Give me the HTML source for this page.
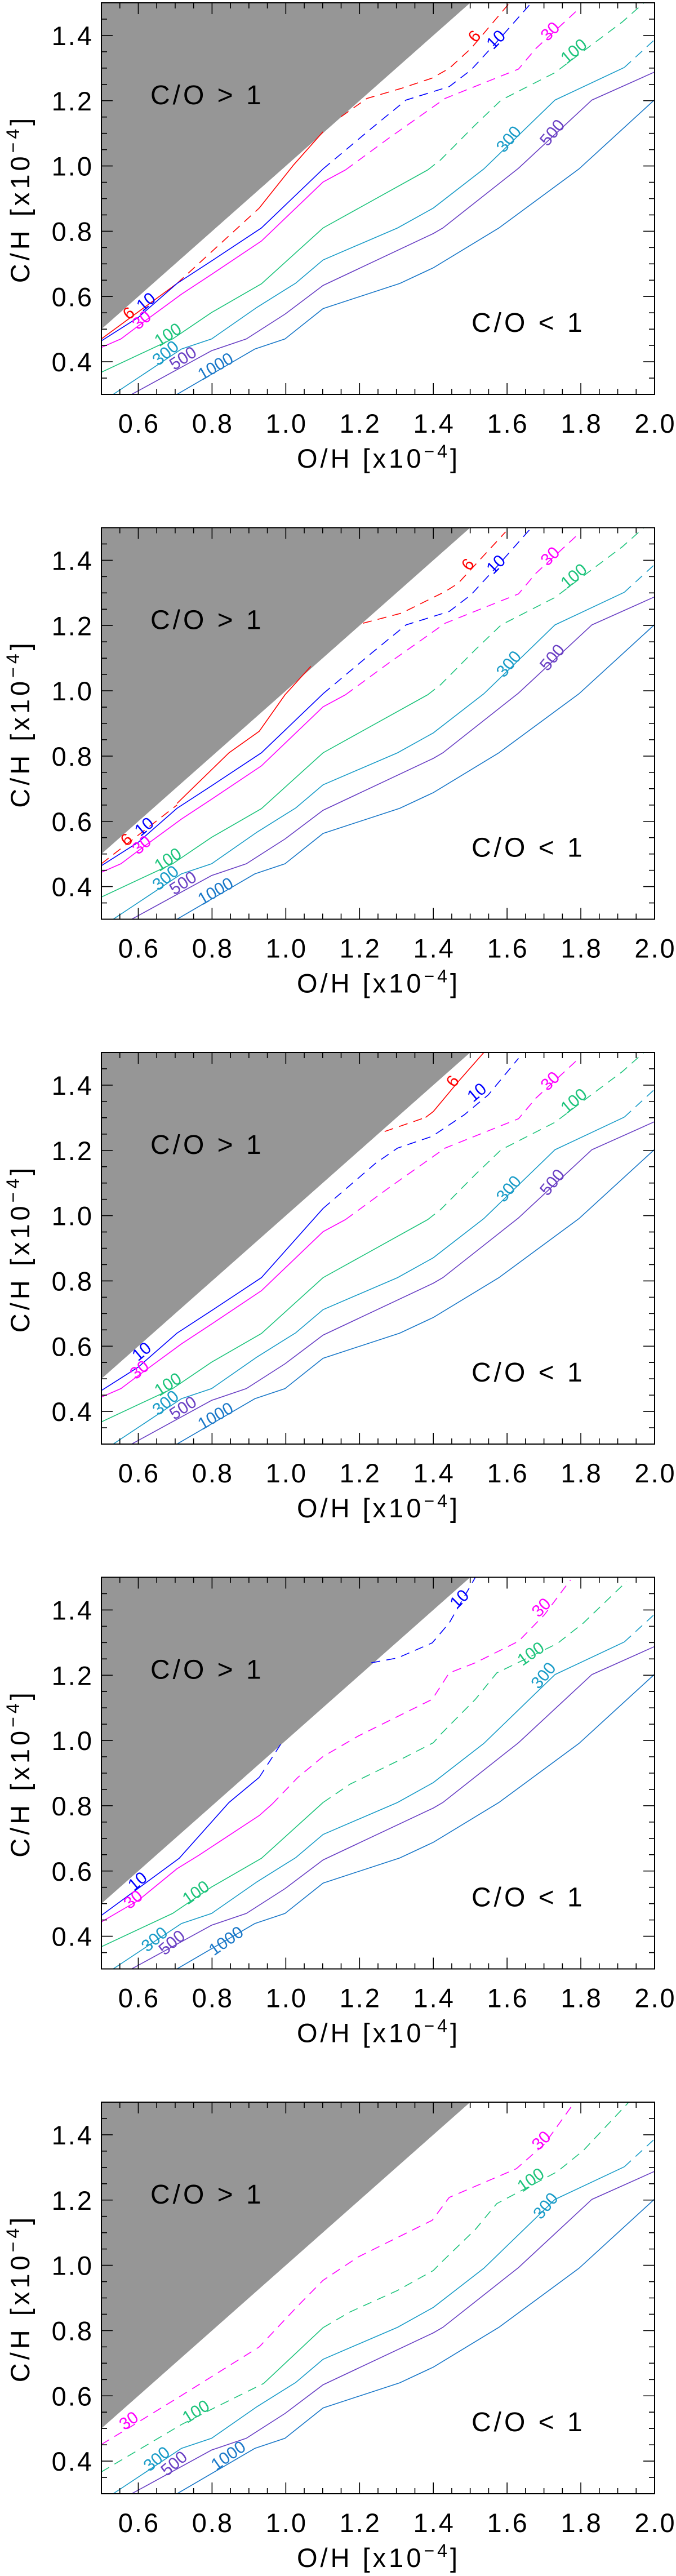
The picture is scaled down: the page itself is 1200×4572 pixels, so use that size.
<!DOCTYPE html>
<html><head><meta charset="utf-8">
<style>
html,body{margin:0;padding:0;background:#fff;}
svg{display:block;}
text{font-family:"Liberation Sans",sans-serif;}
</style></head>
<body>
<svg id="fig" width="1200" height="4572" viewBox="0 0 1200 4572" xmlns="http://www.w3.org/2000/svg"></svg>
<script>
// ---- axis data ----
const xTicks = [0.6, 0.8, 1.0, 1.2, 1.4, 1.6, 1.8, 2.0];
const xTickLabels = ["0.6","0.8","1.0","1.2","1.4","1.6","1.8","2.0"];
const yTicks = [0.4, 0.6, 0.8, 1.0, 1.2, 1.4];
const yTickLabels = ["0.4","0.6","0.8","1.0","1.2","1.4"];
const xRange = [0.5, 2.0];
const yRange = [0.3, 1.5];
const levels = ["6","10","30","100","300","500","1000"];
const levelColors = ["#ff0000","#0000ff","#ff00ff","#1ec47c","#1a9cc8","#6a40c4","#1a78c8"];

// ---- shared contour data (O/H, C/H) ----
const c1000 = [[0.705,0.3],[0.916,0.439],[0.998,0.470],[1.101,0.563],[1.309,0.640],[1.400,0.688],[1.578,0.810],[1.795,0.991],[2.0,1.203]];
const c500 = [[0.582,0.3],[0.799,0.434],[0.893,0.470],[0.998,0.546],[1.101,0.634],[1.400,0.793],[1.426,0.810],[1.631,0.993],[1.830,1.202],[2.0,1.288]];
const c300 = [[0.532,0.3],[0.717,0.439],[0.799,0.470],[0.922,0.567],[1.027,0.641],[1.101,0.712],[1.303,0.810],[1.400,0.871],[1.537,0.991],[1.730,1.202],[1.918,1.302]];
const c300d = [[1.918,1.302],[2.0,1.387]];
const c100s = [[0.5,0.368],[0.693,0.470],[0.799,0.551],[0.934,0.639],[1.101,0.810],[1.385,0.988]];
const c100d = [[1.385,0.988],[1.420,1.019],[1.514,1.126],[1.584,1.202],[1.730,1.286],[1.807,1.352],[1.912,1.441],[1.971,1.5]];
const c30s = [[0.5,0.444],[0.553,0.470],[0.600,0.510],[0.717,0.607],[0.799,0.668],[0.934,0.770],[1.101,0.951],[1.162,0.988]];
const c30d = [[1.162,0.988],[1.279,1.085],[1.432,1.207],[1.631,1.297],[1.678,1.360],[1.795,1.482]];
const c10s = [[0.5,0.464],[0.600,0.536],[0.705,0.640],[0.799,0.709],[0.934,0.810],[1.101,0.991]];
const c10d = [[1.101,0.991],[1.232,1.115],[1.326,1.202],[1.443,1.243],[1.502,1.294],[1.572,1.380],[1.666,1.5]];
// panel 1 red
const p1c6s1 = [[0.5,0.470],[0.705,0.640]];
const p1c6d1 = [[0.705,0.640],[0.928,0.871]];
const p1c6s2 = [[0.928,0.871],[1.021,1.003],[1.101,1.105]];
const p1c6d2 = [[1.150,1.151],[1.220,1.207],[1.314,1.238],[1.396,1.269],[1.443,1.299],[1.502,1.360],[1.607,1.5]];
// panel 2 red
const p2c6d1 = [[0.5,0.470],[0.705,0.650]];
const p2c6s = [[0.705,0.655],[0.846,0.810],[0.928,0.876],[0.998,0.988],[1.068,1.075]];
const p2c6d2 = [[1.209,1.207],[1.314,1.238],[1.432,1.304],[1.467,1.329],[1.596,1.487]];
// panel 3
const p3c6d = [[1.268,1.258],[1.379,1.301]];
const p3c6s = [[1.379,1.301],[1.400,1.319],[1.467,1.410],[1.537,1.5]];
const p3c10s = [[0.5,0.464],[0.600,0.536],[0.705,0.640],[0.799,0.709],[0.934,0.810],[1.101,1.022]];
const p3c10d = [[1.101,1.022],[1.244,1.161],[1.303,1.207],[1.397,1.243],[1.484,1.309],[1.549,1.370],[1.631,1.482]];
// panel 4
const p4c10s = [[0.5,0.464],[0.711,0.639],[0.846,0.810],[0.928,0.887]];
const p4c10d1 = [[0.928,0.887],[0.986,0.988]];
const p4c10d2 = [[1.232,1.238],[1.303,1.253],[1.397,1.299],[1.443,1.360],[1.514,1.5]];
const p4c30s = [[0.5,0.444],[0.600,0.510],[0.705,0.607],[0.764,0.648],[0.928,0.770],[0.963,0.805]];
const p4c30d = [[0.963,0.805],[1.033,0.887],[1.101,0.951],[1.197,1.014],[1.397,1.126],[1.443,1.207],[1.514,1.238],[1.631,1.304],[1.701,1.385],[1.772,1.492]];
const p4c100s = [[0.5,0.368],[0.693,0.470],[0.799,0.551],[0.934,0.639],[1.101,0.810]];
const p4c100d = [[1.101,0.810],[1.174,0.866],[1.303,0.937],[1.400,0.993],[1.420,1.019],[1.514,1.126],[1.572,1.207],[1.736,1.297],[1.807,1.360],[1.924,1.487]];
// panel 5
const p5c30d = [[0.5,0.451],[0.576,0.503],[0.717,0.601],[0.928,0.750],[1.033,0.876],[1.101,0.954],[1.197,1.026],[1.397,1.138],[1.443,1.208],[1.625,1.296],[1.701,1.371],[1.783,1.5]];
const p5c100d1 = [[0.5,0.367],[0.717,0.512],[0.799,0.559],[0.940,0.638]];
const p5c100s = [[0.940,0.638],[1.101,0.809]];
const p5c100d2 = [[1.101,0.809],[1.174,0.857],[1.303,0.923],[1.400,0.984],[1.420,1.007],[1.514,1.110],[1.572,1.189],[1.736,1.287],[1.807,1.352],[1.930,1.5]];

// segments per panel: [levelIndex, points, dashed]
const panelSegments = [
  [[0,p1c6s1,0],[0,p1c6d1,1],[0,p1c6s2,0],[0,p1c6d2,1],[1,c10s,0],[1,c10d,1],[2,c30s,0],[2,c30d,1],[3,c100s,0],[3,c100d,1],[4,c300,0],[4,c300d,1],[5,c500,0],[6,c1000,0]],
  [[0,p2c6d1,1],[0,p2c6s,0],[0,p2c6d2,1],[1,c10s,0],[1,c10d,1],[2,c30s,0],[2,c30d,1],[3,c100s,0],[3,c100d,1],[4,c300,0],[4,c300d,1],[5,c500,0],[6,c1000,0]],
  [[0,p3c6d,1],[0,p3c6s,0],[1,p3c10s,0],[1,p3c10d,1],[2,c30s,0],[2,c30d,1],[3,c100s,0],[3,c100d,1],[4,c300,0],[4,c300d,1],[5,c500,0],[6,c1000,0]],
  [[1,p4c10s,0],[1,p4c10d1,1],[1,p4c10d2,1],[2,p4c30s,0],[2,p4c30d,1],[3,p4c100s,0],[3,p4c100d,1],[4,c300,0],[4,c300d,1],[5,c500,0],[6,c1000,0]],
  [[2,p5c30d,1],[3,p5c100d1,1],[3,p5c100s,0],[3,p5c100d2,1],[4,c300,0],[4,c300d,1],[5,c500,0],[6,c1000,0]]
];
// contour labels per panel: [levelIndex, O/H, C/H, angle]
const panelLabels = [
  [[0,1.514,1.395,-50],[1,1.572,1.385,-45],[2,1.719,1.410,-45],[3,1.783,1.349,-40],[4,1.607,1.080,-50],[5,1.725,1.100,-50],
   [0,0.576,0.546,-40],[1,0.623,0.581,-40],[2,0.611,0.525,-40],[3,0.682,0.480,-33],[4,0.676,0.424,-40],[5,0.723,0.408,-33],[6,0.811,0.383,-30]],
  [[0,1.496,1.385,-50],[1,1.572,1.385,-45],[2,1.719,1.410,-45],[3,1.783,1.349,-40],[4,1.607,1.080,-50],[5,1.725,1.100,-50],
   [0,0.570,0.541,-40],[1,0.618,0.581,-40],[2,0.611,0.525,-40],[3,0.682,0.480,-33],[4,0.676,0.424,-40],[5,0.723,0.408,-33],[6,0.811,0.383,-30]],
  [[0,1.455,1.410,-55],[1,1.520,1.375,-40],[2,1.719,1.410,-45],[3,1.783,1.349,-40],[4,1.607,1.080,-50],[5,1.725,1.100,-50],
   [1,0.611,0.581,-40],[2,0.605,0.525,-40],[3,0.682,0.480,-33],[4,0.676,0.424,-40],[5,0.723,0.408,-33],[6,0.811,0.383,-30]],
  [[1,1.473,1.431,-45],[2,1.695,1.405,-45],[3,1.666,1.263,-35],[4,1.701,1.197,-50],
   [1,0.600,0.566,-40],[2,0.588,0.510,-40],[3,0.758,0.531,-35],[4,0.646,0.388,-40],[5,0.693,0.378,-40],[6,0.840,0.383,-35]],
  [[2,1.695,1.380,-45],[3,1.666,1.259,-35],[4,1.707,1.180,-50],
   [2,0.576,0.521,-35],[3,0.758,0.549,-32],[4,0.652,0.404,-40],[5,0.699,0.390,-40],[6,0.846,0.414,-35]]
];

const NS = "http://www.w3.org/2000/svg";
const svg = document.getElementById("fig");
const PL = 180, PR = 1162, PH = 695, PERIOD = 931.5, TOP0 = 5;
function mk(tag, attrs, parent) {
  const e = document.createElementNS(NS, tag);
  for (const k in attrs) e.setAttribute(k, attrs[k]);
  (parent || svg).appendChild(e);
  return e;
}
for (let p = 0; p < 5; p++) {
  const top = TOP0 + p * PERIOD, bot = top + PH;
  const X = v => PL + (v - xRange[0]) / (xRange[1] - xRange[0]) * (PR - PL);
  const Y = v => bot - (v - yRange[0]) / (yRange[1] - yRange[0]) * PH;
  const g = mk("g", {});
  
  
  const clipId = "clip" + p;
  const cp = mk("clipPath", {id: clipId}, g);
  mk("rect", {x: PL, y: top, width: PR - PL, height: PH}, cp);
  const poly = mk("polygon", {points: `${X(0.5)},${Y(0.5)} ${X(1.5)},${Y(1.5)} ${X(0.5)},${Y(1.5)}`, fill: "#969696"}, g);
  
  
  const cg = mk("g", {"clip-path": `url(#${clipId})`}, g);
  
  
  panelSegments[p].forEach(s => {
    const d = s[1].map((pt, i) => (i ? "L" : "M") + X(pt[0]).toFixed(1) + "," + Y(pt[1]).toFixed(1)).join("");
    const path = mk("path", {d: d, fill: "none", stroke: levelColors[s[0]], "stroke-width": 1.6, "stroke-dasharray": s[2] ? "16 11" : "none"}, cg);
    
    
  });
  panelLabels[p].forEach(l => {
    const x = X(l[1]), y = Y(l[2]);
    const t = mk("text", {x: x, y: y, fill: levelColors[l[0]], "font-size": 30, "text-anchor": "middle", "dominant-baseline": "middle", transform: `rotate(${l[3]} ${x} ${y})`}, cg);
    t.textContent = levels[l[0]];
    
    
  });
  const fr = mk("rect", {x: PL, y: top, width: PR - PL, height: PH, fill: "none", stroke: "#000", "stroke-width": 2}, g);
  
  
  let td = "";
  for (let v = 0.5; v <= 2.0001; v += 0.05) {
    const x = X(v), maj = Math.abs(v * 5 - Math.round(v * 5)) < 1e-6;
    const L = maj ? 20 : 10;
    td += `M${x},${bot}V${bot - L}M${x},${top}V${top + L}`;
  }
  for (let v = 0.3; v <= 1.5001; v += 0.05) {
    const y = Y(v), maj = Math.abs(v * 5 - Math.round(v * 5)) < 1e-6;
    const L = maj ? 20 : 10;
    td += `M${PL},${y}H${PL + L}M${PR},${y}H${PR - L}`;
  }
  const tk = mk("path", {d: td, stroke: "#000", "stroke-width": 1.6, fill: "none"}, g);
  
  
  xTicks.forEach((v, i) => {
    const t = mk("text", {x: X(v) + 1.5, y: bot + 68, "font-size": 47, "letter-spacing": 3, "text-anchor": "middle", fill: "#000"}, g);
    t.textContent = xTickLabels[i];
    
    
  });
  yTicks.forEach((v, i) => {
    const t = mk("text", {x: 166, y: Y(v) + 17, "font-size": 47, "letter-spacing": 3, "text-anchor": "end", fill: "#000"}, g);
    t.textContent = yTickLabels[i];
    
    
  });
  const xt = mk("text", {x: 672, y: bot + 130, "font-size": 47, "letter-spacing": 5, "text-anchor": "middle", fill: "#000"}, g);
  xt.innerHTML = 'O/H [x10<tspan dy="-18" font-size="32">−4</tspan><tspan dy="18">]</tspan>';
  
  
  const yc = top + 348;
  const yt = mk("text", {x: 52, y: yc, "font-size": 47, "letter-spacing": 6, "text-anchor": "middle", fill: "#000", transform: `rotate(-90 52 ${yc})`}, g);
  yt.innerHTML = 'C/H [x10<tspan dy="-18" font-size="32">−4</tspan><tspan dy="18">]</tspan>';
  
  
  const a1 = mk("text", {x: 267, y: top + 180, "font-size": 48, "letter-spacing": 5, fill: "#000"}, g);
  a1.textContent = "C/O > 1";
  
  
  const a2 = mk("text", {x: 837, y: top + 584, "font-size": 48, "letter-spacing": 5, fill: "#000"}, g);
  a2.textContent = "C/O < 1";
  
  
}
</script>
</body></html>
